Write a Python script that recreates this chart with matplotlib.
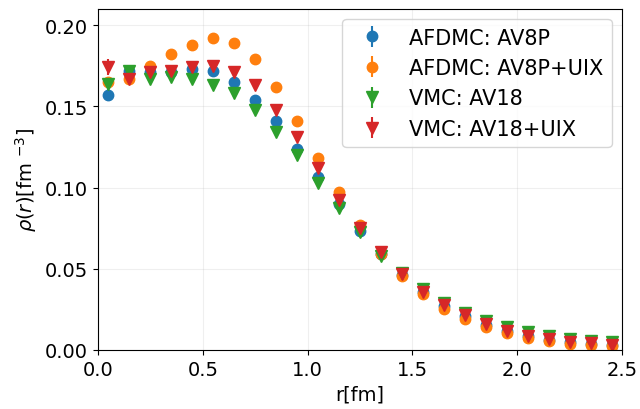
import matplotlib
matplotlib.use("Agg")
import matplotlib.pyplot as plt
import numpy as np

plt.rcParams['font.size'] = 14

r = np.arange(0.05, 2.5, 0.1)

# AFDMC AV8P
afdmc_av8p = [0.157, 0.172, 0.171, 0.171, 0.173, 0.172, 0.165, 0.154, 0.141, 0.124,
              0.1065, 0.0896, 0.0732, 0.059, 0.0463, 0.0355, 0.0272, 0.0208, 0.0155,
              0.0115, 0.0085, 0.0064, 0.0048, 0.0038, 0.0030]
afdmc_av8p_err = [0.004, 0.002, 0.002, 0.002, 0.002, 0.002, 0.002, 0.002, 0.002, 0.002,
                  0.002, 0.001, 0.001, 0.001, 0.001, 0.001, 0.001, 0.001, 0.001,
                  0.001, 0.001, 0.001, 0.001, 0.001, 0.001]

# AFDMC AV8P+UIX
afdmc_av8p_uix = [0.165, 0.167, 0.175, 0.182, 0.188, 0.192, 0.189, 0.179, 0.162, 0.141,
                  0.118, 0.097, 0.0767, 0.059, 0.0456, 0.0344, 0.0255, 0.019, 0.0139,
                  0.0102, 0.0075, 0.0053, 0.0037, 0.003, 0.0023]
afdmc_av8p_uix_err = [0.003, 0.002, 0.002, 0.002, 0.002, 0.002, 0.002, 0.002, 0.002, 0.002,
                      0.002, 0.001, 0.001, 0.001, 0.001, 0.001, 0.001, 0.001, 0.001,
                      0.001, 0.001, 0.001, 0.001, 0.001, 0.001]

# VMC AV18
vmc_av18 = [0.164, 0.172, 0.167, 0.168, 0.167, 0.163, 0.158, 0.148, 0.134, 0.120,
            0.103, 0.0875, 0.0726, 0.058, 0.0472, 0.0374, 0.029, 0.023, 0.018,
            0.0139, 0.0108, 0.0084, 0.0067, 0.0055, 0.0047]
vmc_av18_err = [0.003, 0.002, 0.002, 0.002, 0.002, 0.002, 0.002, 0.002, 0.002, 0.002,
                0.002, 0.001, 0.001, 0.001, 0.001, 0.001, 0.001, 0.001, 0.001,
                0.001, 0.001, 0.001, 0.001, 0.001, 0.001]

# VMC AV18+UIX
vmc_av18_uix = [0.174, 0.167, 0.171, 0.172, 0.174, 0.175, 0.171, 0.163, 0.148, 0.131,
                0.112, 0.0926, 0.0752, 0.060, 0.047, 0.0358, 0.0276, 0.0215, 0.016,
                0.0118, 0.0088, 0.0067, 0.0051, 0.0041, 0.0033]
vmc_av18_uix_err = [0.005, 0.002, 0.002, 0.002, 0.002, 0.002, 0.002, 0.002, 0.002, 0.002,
                    0.002, 0.001, 0.001, 0.001, 0.001, 0.001, 0.001, 0.001, 0.001,
                    0.001, 0.001, 0.001, 0.001, 0.001, 0.001]

fig, ax = plt.subplots(figsize=(6.4, 4.1), dpi=100)
fig.subplots_adjust(left=0.153, right=0.972, bottom=0.144, top=0.976)
ax.errorbar(r, afdmc_av8p, yerr=afdmc_av8p_err, fmt='o', ms=7.5, label='AFDMC: AV8P')
ax.errorbar(r, afdmc_av8p_uix, yerr=afdmc_av8p_uix_err, fmt='o', ms=7.5, label='AFDMC: AV8P+UIX')
ax.errorbar(r, vmc_av18, yerr=vmc_av18_err, fmt='v', ms=8, label='VMC: AV18')
ax.errorbar(r, vmc_av18_uix, yerr=vmc_av18_uix_err, fmt='v', ms=8, label='VMC: AV18+UIX')

ax.set_xlim(0, 2.5)
ax.set_ylim(0, 0.21)
ax.set_yticks([0.0, 0.05, 0.10, 0.15, 0.20])
ax.set_xlabel('r[fm]')
ax.set_ylabel(r'$\rho(r)$[fm $^{-3}$]')
ax.grid(alpha=0.2)
ax.legend(loc='upper right', fontsize=15)

fig.savefig('out.png')
